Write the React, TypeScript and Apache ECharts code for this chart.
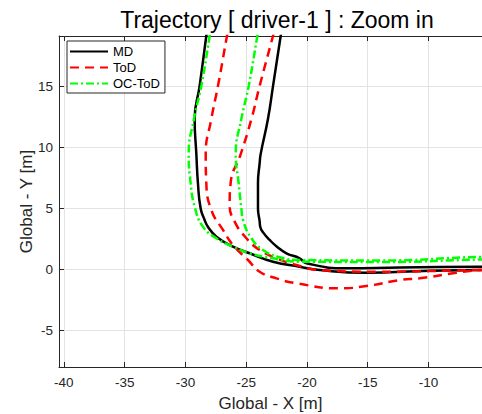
import React, { useEffect, useRef } from "react";
import * as echarts from "echarts";

// MD (black, solid): outer and inner edges
const mdOuterX = [-28.1, -28.28, -28.83, -29.24, -29.1, -28.97, -28.75, -28.42, -28.15, -27.45, -26.09, -24.71, -22.79, -20.6, -18.95, -15.11, -9.89, -5.78, -4];
const mdOuterY = [20.5, 19.12, 15.02, 12.3, 9.43, 7.05, 5.0, 4.04, 3.49, 2.67, 1.85, 1.31, 0.62, 0.21, -0.06, -0.28, -0.11, -0.06, -0.05];
const mdInnerX = [-21.95, -22.16, -22.79, -23.21, -23.81, -23.89, -24.03, -24.03, -23.89, -23.85, -23.56, -23.07, -22.47, -21.69, -20.6, -20.04, -16.75, -12.36, -5.78, -4];
const mdInnerY = [20.5, 19.12, 15.02, 12.3, 9.43, 8.71, 7.05, 5.0, 3.9, 3.5, 2.96, 2.4, 1.85, 1.31, 0.9, 0.49, 0.08, 0.15, 0.21, 0.22];

// ToD (red, dashed)
const todOuterX = [-26.33, -26.58, -27.32, -27.87, -28.33, -28.28, -27.87, -26.91, -26.09, -24.85, -23.89, -22.51, -20.87, -17.3, -15.11, -12.36, -10.72, -8.0, -5.78, -4];
const todOuterY = [20.5, 19.12, 15.02, 12.3, 9.43, 7.05, 4.86, 3.22, 1.99, 0.76, -0.2, -0.74, -1.15, -1.56, -1.37, -0.88, -0.74, -0.33, -0.06, 0.0];
const todInnerX = [-22.42, -22.79, -23.89, -24.57, -25.45, -26.28, -26.36, -25.95, -24.98, -23.89, -22.51, -20.87, -18.95, -14.01, -5.78, -4];
const todInnerY = [20.5, 19.12, 15.02, 12.3, 9.43, 7.05, 5.27, 3.9, 2.54, 1.58, 0.9, 0.35, -0.06, -0.2, -0.06, -0.05];

// OC-ToD (green, dash-dot)
const ocOuterX = [-27.77, -28.0, -28.69, -29.3, -29.73, -29.57, -29.24, -28.56, -27.45, -26.09, -24.71, -22.79, -20.6, -14.01, -5.78, -4];
const ocOuterY = [20.5, 19.12, 15.02, 12.3, 9.43, 7.05, 5.13, 3.49, 2.54, 1.85, 1.31, 0.9, 0.62, 0.6, 0.8, 0.82];
const ocInnerX = [-23.84, -24.08, -24.79, -25.4, -25.86, -25.62, -25.4, -25.26, -24.57, -23.62, -22.24, -20.6, -14.01, -5.78, -4];
const ocInnerY = [20.5, 19.12, 15.02, 12.3, 9.43, 7.05, 5.0, 4.04, 2.54, 1.58, 0.98, 0.76, 0.72, 1.01, 1.03];

const seriesNames = ["MD", "ToD", "OC-ToD"];
const xLimits = [-40.4, -5.6];
const yLimits = [-8, 19.1];
const titleText = "Trajectory [ driver-1 ] : Zoom in";
const xName = "Global - X [m]";
const yName = "Global - Y [m]";

const FONT = "'Liberation Sans', Arial, Helvetica, sans-serif";
const AX = "#262626";

function zip(xs: number[], ys: number[]) {
  return xs.map((x, i) => [x, ys[i]]);
}

export default function App() {
  const ref = useRef<HTMLDivElement>(null);
  useEffect(() => {
    if (!ref.current) return;
    const chart = echarts.init(ref.current, undefined, { renderer: "svg" });
    const styles: Record<string, any> = {
      MD: { color: "#000000", width: 2.5, type: "solid" },
      ToD: { color: "#ff0000", width: 2.5, type: [9, 6] },
      "OC-ToD": { color: "#00ff00", width: 2.5, type: [8, 3, 2, 3] },
    };
    const mk = (name: string, xs: number[], ys: number[]) => ({
      type: "line",
      name,
      data: zip(xs, ys),
      symbol: "none",
      showSymbol: false,
      smooth: 0.5,
      clip: true,
      color: styles[name].color,
      lineStyle: { ...styles[name] },
      itemStyle: { color: styles[name].color },
    });
    const axisCommon = {
      axisLine: { show: true, onZero: false, lineStyle: { color: AX, width: 1 } },
      axisTick: { show: true, inside: true, length: 5, lineStyle: { color: AX } },
      minInterval: 5,
      maxInterval: 5,
      splitNumber: 5,
      nameMoveOverlap: false,
    };
    chart.setOption({
      animation: false,
      backgroundColor: "#ffffff",
      title: {
        text: titleText,
        left: 272,
        textAlign: "center",
        top: 3,
        textStyle: { fontFamily: FONT, fontSize: 23, fontWeight: "normal", color: "#000" },
      },
      legend: {
        data: seriesNames,
        orient: "vertical",
        left: 67,
        top: 41,
        itemWidth: 38,
        itemHeight: 14,
        itemGap: 3,
        padding: [4, 5, 3, 2],
        borderColor: AX,
        borderWidth: 1,
        backgroundColor: "#ffffff",
        itemStyle: { color: "rgba(0,0,0,0)", borderWidth: 0, opacity: 0 },
        textStyle: { fontFamily: FONT, fontSize: 13, color: "#000" },
      },
      grid: { left: 59, right: 0, top: 36, bottom: 47, containLabel: false, outerBoundsMode: "none" },
      xAxis: [
        {
          type: "value",
          min: xLimits[0],
          max: xLimits[1],
          ...axisCommon,
          name: xName,
          nameLocation: "middle",
          nameGap: 28,
          nameTextStyle: { fontFamily: FONT, fontSize: 17, color: AX },
          axisLabel: { fontFamily: FONT, fontSize: 13.5, color: AX, margin: 8, showMinLabel: false, showMaxLabel: false },
          splitLine: { show: true, showMinLine: false, showMaxLine: false, lineStyle: { color: "#e3e3e3", width: 1 } },
        },
        {
          type: "value",
          position: "top",
          min: xLimits[0],
          max: xLimits[1],
          ...axisCommon,
          axisLabel: { show: false },
          splitLine: { show: false },
        },
      ],
      yAxis: {
        type: "value",
        min: yLimits[0],
        max: yLimits[1],
        ...axisCommon,
        name: yName,
        nameLocation: "middle",
        nameGap: 24,
        nameTextStyle: { fontFamily: FONT, fontSize: 17, color: AX },
        axisLabel: { fontFamily: FONT, fontSize: 13.5, color: AX, margin: 6, showMinLabel: false, showMaxLabel: false },
        splitLine: { show: true, showMinLine: false, showMaxLine: false, lineStyle: { color: "#e3e3e3", width: 1 } },
      },
      series: [
        mk("MD", mdOuterX, mdOuterY),
        mk("MD", mdInnerX, mdInnerY),
        mk("ToD", todOuterX, todOuterY),
        mk("ToD", todInnerX, todInnerY),
        mk("OC-ToD", ocOuterX, ocOuterY),
        mk("OC-ToD", ocInnerX, ocInnerY),
      ],
    });
    return () => chart.dispose();
  }, []);
  return (
    <div
      ref={ref}
      style={{ position: "fixed", left: 0, top: 0, width: 482, height: 414, background: "#fff" }}
    />
  );
}
